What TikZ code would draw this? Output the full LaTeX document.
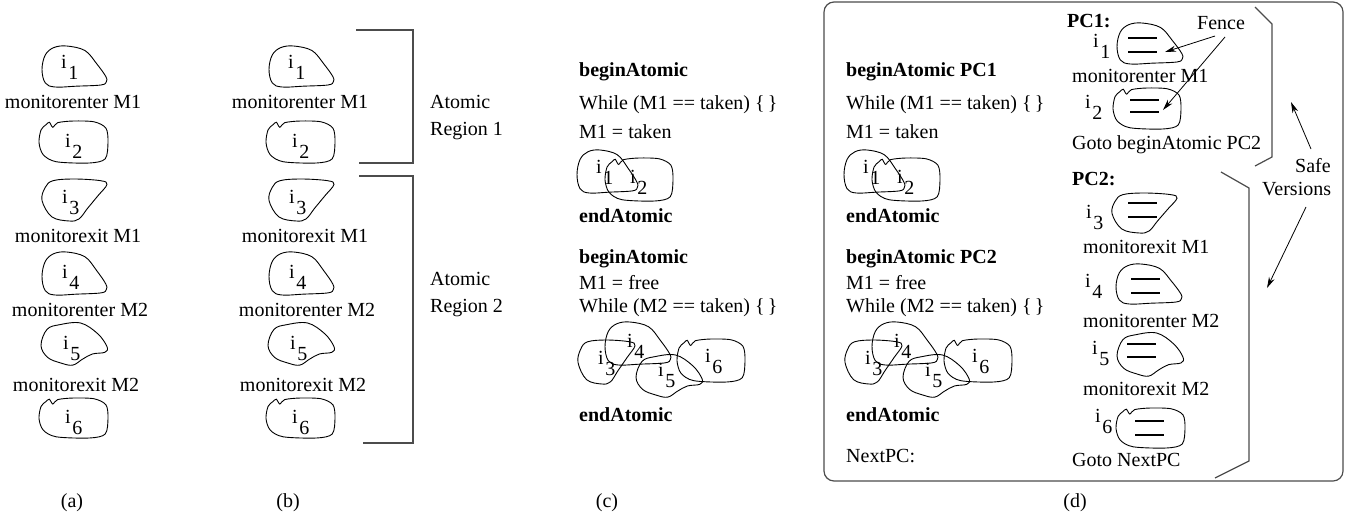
\documentclass[tikz,border=0pt]{standalone}
\usepackage{fontspec}
\setmainfont{Liberation Serif}
\usetikzlibrary{arrows.meta}

\tikzset{
 txt/.style={font=\fontsize{20}{24}\selectfont, inner sep=0pt, anchor=base west},
 ctxt/.style={txt, anchor=base},
 btxt/.style={txt, font=\fontsize{20}{24}\selectfont\bfseries},
 blobline/.style={line width=0.9pt},
 brk/.style={line width=1.2pt, draw=black!70},
 dbar/.style={line width=2.4pt},
 arr/.style={-{Stealth[length=11pt,width=6pt]}, line width=0.8pt},
}

% blob shapes: #1 left, #2 top, #3 width, #4 height
\newcommand\shA[4]{\draw[blobline,shift={(#1,#2)},xscale=#3,yscale=#4] plot[smooth cycle,tension=0.6] coordinates {(0.38,0) (0.66,0.11) (0.84,0.43) (0.98,0.74) (0.99,0.87) (0.91,0.95) (0.53,0.98) (0.2,1.0) (0.05,0.9) (0,0.57) (0.05,0.22) (0.18,0.04)};}
\newcommand\shB[4]{\draw[blobline,shift={(#1,#2)},xscale=#3,yscale=#4] plot[smooth cycle,tension=0.5] coordinates {(0,0.51) (0.03,0.21) (0.1,0.09) (0.15,0.03) (0.2,0.15) (0.27,0.04) (0.5,0.0) (0.8,0.02) (0.97,0.17) (1.0,0.5) (0.96,0.9) (0.73,1.0) (0.25,0.97) (0.06,0.8)};}
\newcommand\shC[4]{\draw[blobline,shift={(#1,#2)},xscale=#3,yscale=#4] plot[smooth cycle,tension=0.6] coordinates {(0.17,0.04) (0.5,0.0) (0.9,0.04) (1.0,0.13) (0.86,0.4) (0.7,0.7) (0.57,0.95) (0.42,1.0) (0.15,0.9) (0.0,0.51) (0.05,0.2)};}
\newcommand\shD[4]{\draw[blobline,shift={(#1,#2)},xscale=#3,yscale=#4] plot[smooth cycle,tension=0.6] coordinates {(0.28,0.04) (0.6,0.0) (0.86,0.25) (1.0,0.55) (0.97,0.68) (0.78,0.72) (0.63,0.84) (0.48,0.98) (0.3,0.93) (0.1,0.8) (0.0,0.52) (0.09,0.15)};}
% label i_n : name, x, baseline y, digit
\newcommand\ilab[4]{\node[txt] (#1) at (#2,#3) {i\hspace{1.5pt}\raisebox{-11pt}{#4}};}
% two fence bars
\newcommand\bars[3]{\draw[dbar] (#1,#2) -- ++(29,0); \draw[dbar] (#1,#3) -- ++(29,0);}

% column (a)/(b)
\newcommand\seqcol[2]{%
\begin{scope}[xshift=#1]
\shA{42}{46}{65}{41} \ilab{#2i1}{61}{68}{1}
\node[ctxt] (#2t1) at (73,108) {monitorenter M1};
\shB{39}{121}{69}{42} \ilab{#2i2}{65}{147}{2}
\shC{42}{179}{65}{42} \ilab{#2i3}{62}{203}{3}
\node[ctxt] (#2t2) at (78,242) {monitorexit M1};
\shA{42}{252}{65}{43} \ilab{#2i4}{62}{278}{4}
\node[ctxt] (#2t3) at (80,316) {monitorenter M2};
\shD{41}{323}{66}{43} \ilab{#2i5}{63}{349}{5}
\node[ctxt] (#2t4) at (76,391) {monitorexit M2};
\shB{39}{398}{69}{40} \ilab{#2i6}{65}{423}{6}
\end{scope}}

% column (c)/(d) left
\newcommand\atomcol[4]{%
\begin{scope}[xshift=#1]
\node[btxt] (#2b1) at (579,76) {beginAtomic#3};
\node[txt] (#2w1) at (579,109) {While (M1 == taken) \{\,\}};
\node[txt] (#2m1) at (579,138) {M1 = taken};
\shA{577}{150}{61}{43}
\shB{605}{158}{68}{43}
\ilab{#2i1}{596}{173}{1}
\ilab{#2i2}{630}{183}{2}
\node[btxt] (#2e1) at (579,222) {endAtomic};
\node[btxt] (#2b2) at (579,263) {beginAtomic#4};
\node[txt] (#2f) at (579,289) {M1 = free};
\node[txt] (#2w2) at (579,312) {While (M2 == taken) \{\,\}};
\shC{578}{340}{57}{44}
\shA{605}{322}{66}{43}
\shD{636}{355}{66}{43}
\shB{677}{339}{68}{43}
\ilab{#2i3}{598}{364}{3}
\ilab{#2i4}{627}{347}{4}
\ilab{#2i5}{658}{376}{5}
\ilab{#2i6}{705}{362}{6}
\node[btxt] (#2e2) at (579,421) {endAtomic};
\end{scope}}

\begin{document}
\begin{tikzpicture}[x=1pt,y=-1pt]
\useasboundingbox (0,0) rectangle (1359,523);

% (a) and (b)
\seqcol{0}{a}
\seqcol{227}{b}
\draw[brk] (356,30) -- (413,30) -- (413,163) -- (359,163);
\draw[brk] (359,176) -- (413,176) -- (413,443) -- (363,443);
\node[txt] (ar1a) at (430,108) {Atomic};
\node[txt] (ar1b) at (430,135) {Region 1};
\node[txt] (ar2a) at (430,285) {Atomic};
\node[txt] (ar2b) at (430,312) {Region 2};

% (c) and (d) left
\atomcol{0}{c}{}{}
\atomcol{267}{d}{ PC1}{ PC2}
\node[txt] (nextpc) at (846,462) {NextPC:};

% (d) frame
\draw[brk, rounded corners=10pt] (824,2) rectangle (1343,481);

% (d) safe versions
\node[btxt] (pc1) at (1067,27) {PC1:};
\node[txt] (fence) at (1197,29) {Fence};
\shA{1117}{23}{66}{41} \bars{1128}{38}{52} \ilab{di1s}{1093}{47}{1}
\node[txt] (dt1) at (1072,82) {monitorenter M1};
\shB{1113}{88}{68}{41} \bars{1130}{100}{112} \ilab{di2s}{1085}{108}{2}
\node[txt] (goto1) at (1072,149) {Goto beginAtomic PC2};
\node[btxt] (pc2) at (1072,185) {PC2:};
\shC{1112}{193}{65}{40} \bars{1128}{203}{217} \ilab{di3s}{1086}{218}{3}
\node[txt] (dt2) at (1083,253) {monitorexit M1};
\shA{1116}{264}{66}{40} \bars{1131}{279}{293} \ilab{di4s}{1085}{287}{4}
\node[txt] (dt3) at (1083,327) {monitorenter M2};
\shD{1117}{333}{66}{44} \bars{1127}{344}{357} \ilab{di5s}{1092}{354}{5}
\node[txt] (dt4) at (1083,395) {monitorexit M2};
\shB{1116}{408}{69}{40} \bars{1135}{421}{435} \ilab{di6s}{1095}{422}{6}
\node[txt] (goto2) at (1072,466) {Goto NextPC};

\draw[brk] (1255,7) -- (1272,24) -- (1272,157) -- (1255,166);
\draw[brk] (1221,172) -- (1249,188) -- (1249,461) -- (1215,478);

\node[txt] (safe) at (1295,172) {Safe};
\node[txt] (versions) at (1262,195) {Versions};

\coordinate (f1s) at (1215,36);
\coordinate (f1t) at (1165,52);
\coordinate (f2s) at (1225,37);
\coordinate (f2t) at (1163,110);
\coordinate (s1s) at (1311,149);
\coordinate (s1t) at (1291,102);
\coordinate (s2s) at (1306,207);
\coordinate (s2t) at (1267,288);
\draw[arr] (f1s) -- (f1t);
\draw[arr] (f2s) -- (f2t);
\draw[arr] (s1s) -- (s1t);
\draw[arr] (s2s) -- (s2t);

% captions
\node[ctxt] (capa) at (72,507) {(a)};
\node[ctxt] (capb) at (288,507) {(b)};
\node[ctxt] (capc) at (607,507) {(c)};
\node[ctxt] (capd) at (1075,507) {(d)};
\end{tikzpicture}
\end{document}
